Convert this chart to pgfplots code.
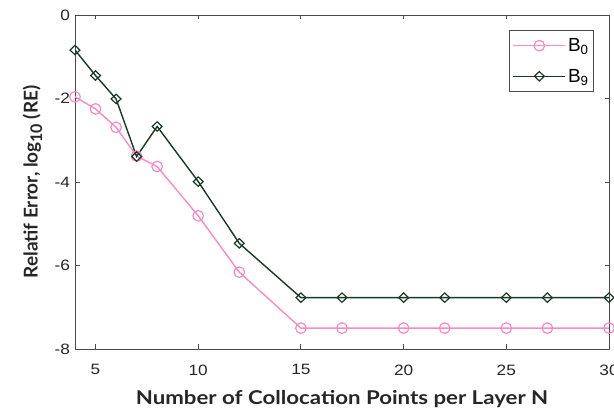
\documentclass[border=0pt]{standalone}
\usepackage{fontspec}
\setmainfont{Liberation Sans}
\newfontfamily\latofont{Lato}
\usepackage{pgfplots}
\pgfplotsset{compat=1.18}
\definecolor{pinkB}{HTML}{F98BC3}
\definecolor{greenB}{HTML}{173A26}
\definecolor{axisgray}{HTML}{4A4A4A}

\begin{document}
\begin{tikzpicture}
\begin{axis}[
  scale only axis,
  width=534pt, height=334pt,
  xmin=4, xmax=30, ymin=-8, ymax=0,
  xtick={5,10,...,30}, ytick={-8,-6,...,0},
  tick align=inside, major tick length=4.5pt,
  axis line style={axisgray, line width=0.9pt},
  every tick/.style={axisgray, line width=0.9pt},
  tick label style={font=\fontsize{15}{17}\selectfont, text=black!85, xscale=1.15},
  /pgf/number format/assume math mode=true,
  xticklabel shift=12pt,
  yticklabel shift=1pt,
  xlabel={Number of Collocation Points per Layer N},
  ylabel={Relatif Error, log\raisebox{-0.45ex}{\fontsize{16}{16}\selectfont 10} (RE)},
  xlabel style={font=\latofont\bfseries\fontsize{19}{22}\selectfont, text=black!85,
    xscale=1.17, yshift=-8pt},
  ylabel style={font=\latofont\bfseries\fontsize{19}{22}\selectfont, text=black!85, yshift=5pt},
  legend style={at={(1,1)}, xshift=-15pt, yshift=-15pt, anchor=north east,
    draw=axisgray, line width=0.8pt, font=\fontsize{19}{21}\selectfont,
    inner xsep=3pt, inner ysep=6pt, row sep=12pt, cells={anchor=west}},
  legend image code/.code={%
    \draw[mark repeat=2, mark phase=2, #1] plot coordinates {(0pt,0pt) (26pt,0pt) (52pt,0pt)};},
]
\addplot[pinkB, line width=1.4pt, mark=o, mark size=5.3pt, mark options={line width=1.2pt}]
  coordinates {(4,-1.96) (5,-2.25) (6,-2.69) (7,-3.38) (8,-3.63) (10,-4.81) (12,-6.16)
               (15,-7.50) (17,-7.50) (20,-7.50) (22,-7.50) (25,-7.50) (27,-7.50) (30,-7.50)};
\addlegendentry{B\textsubscript{0}}
\addplot[greenB, line width=1.4pt, mark=diamond, mark size=4.7pt, mark options={line width=1.2pt, xscale=1.4}]
  coordinates {(4,-0.84) (5,-1.45) (6,-2.01) (7,-3.39) (8,-2.67) (10,-3.99) (12,-5.47)
               (15,-6.77) (17,-6.77) (20,-6.77) (22,-6.77) (25,-6.77) (27,-6.77) (30,-6.77)};
\addlegendentry{B\textsubscript{9}}
\end{axis}
\pgfresetboundingbox
\path[use as bounding box] ([shift={(-75pt,-59pt)}]current axis.south west)
  rectangle ([shift={(5pt,15pt)}]current axis.north east);
\end{tikzpicture}
\end{document}
